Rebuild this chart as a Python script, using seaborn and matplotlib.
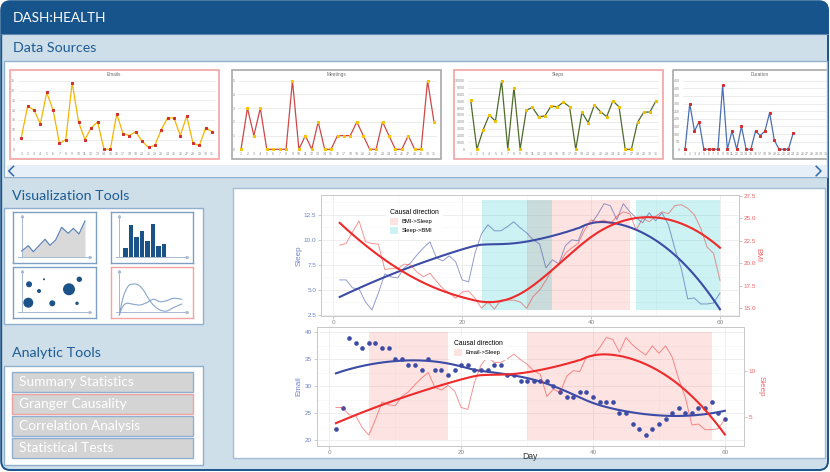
import numpy as np
import pandas as pd
import matplotlib
matplotlib.use("Agg")
import matplotlib.pyplot as plt
import seaborn as sns
from matplotlib.patches import Rectangle, FancyBboxPatch, Patch

W, H, DPI = 830, 472, 100

# ---------------- data ----------------
mini_days = list(range(1, 32))
emails_daily = [6, 22, 20, 13, 29, 20, 3, 5, 34, 14, 5, 11, 14, 0, 0, 18, 8, 7, 9, 4,
                1, 2, 10, 16, 16, 7, 17, 3, 2, 11, 9]
meetings_daily = [0, 3, 1, 3, 0, 0, 0, 0, 5, 0, 1, 0, 2, 0, 0, 1, 1, 1, 2, 1,
                  0, 0, 2, 1, 0, 0, 1, 0, 0, 5, 2]
steps_daily = [7200, 0, 2800, 5000, 4100, 10000, 0, 9000, 0, 5700, 6100, 4750, 4850, 6300,
               6200, 6850, 6200, 0, 5400, 3900, 6450, 5500, 4750, 7050, 6200, 0, 0, 3950,
               5400, 5450, 7100]
duration_days = list(range(1, 25))
duration_daily = [0, 300, 120, 180, 0, 0, 0, 0, 420, 0, 120, 0, 150, 0, 0, 120, 90, 120,
                  240, 60, 0, 0, 0, 105]

days = list(range(1, 61))
sleep = [6.0, 6.0, 5.2, 5.1, 3.8, 3.0, 4.7, 6.6, 6.3, 6.2,
         7.2, 7.7, 8.5, 9.2, 9.8, 8.2, 7.9, 8.4, 7.8, 6.0,
         5.8, 8.7, 10.6, 11.5, 10.9, 10.9, 11.3, 11.8, 11.2, 10.7,
         10.0, 9.6, 7.2, 8.0, 7.6, 9.4, 10.0, 9.9, 11.5, 11.6,
         12.5, 13.6, 13.4, 12.0, 13.6, 12.8, 12.2, 11.7, 12.7, 11.9,
         12.7, 11.5, 9.1, 7.1, 4.1, 4.2, 3.6, 3.6, 3.7, 4.7]
bmi = [22.0, 22.2, 23.5, 24.7, 22.4, 22.2, 22.1, 19.3, 19.4, 19.4,
       19.9, 19.8, 19.0, 18.5, 18.9, 18.0, 17.2, 16.7, 16.1, 16.8,
       16.9, 16.1, 15.0, 15.7, 14.9, 15.9, 15.9, 15.9, 15.7, 15.0,
       16.3, 17.0, 18.1, 19.3, 19.8, 21.1, 21.7, 22.2, 23.7, 24.8,
       24.6, 24.8, 24.4, 25.2, 25.7, 25.5, 23.7, 25.0, 24.6, 25.2,
       25.7, 25.5, 26.4, 26.5, 26.1, 25.4, 23.9, 21.8, 21.1, 18.1]
email = [22, 26, 39, 38, 37, 38, 38, 37, 37, 35, 35, 34, 34, 33, 35, 33, 33, 32, 33, 34,
         34, 33, 33, 33, 34, 34, 32, 32, 31, 31, 31, 31, 31, 30, 29, 28, 28, 29, 29, 28,
         27, 27, 27, 25, 25, 23, 22, 21, 22, 23, 24, 25, 26, 25, 25, 26, 26, 27, 25, 24]

# causal-direction windows (start day, end day)
bmi_to_sleep = [(30, 46)]
sleep_to_bmi = [(23, 34), (47, 60)]
email_to_sleep = [(6, 18), (30, 58)]
top_band = (3.0, 13.95)     # sleep units
bottom_band = (20, 40)      # email units

tools = ["Summary Statistics", "Granger Causality", "Correlation Analysis", "Statistical Tests"]

# icon data (0-100 icon units)
icon_area_x = [10.2, 18.2, 24.3, 38.5, 44.5, 51.4, 58.7, 66.7, 72.8, 79.7, 87.0]
icon_area_y = [24.1, 34.5, 22.7, 47.1, 35.3, 45.7, 70.6, 58.8, 68.6, 57.5, 83.0]
icon_bar_x = [18.0, 24.7, 31.4, 38.1, 44.8, 51.5, 58.2, 64.9]
icon_bar_h = [17.6, 63.3, 40.4, 52.2, 32.5, 64.7, 22.2, 26.1]
icon_bub_x = [19.1, 37.3, 31.2, 67.6, 80.1, 18.2, 47.3, 77.3]
icon_bub_y = [66.7, 76.5, 53.5, 56.9, 76.5, 30.6, 29.4, 29.4]
icon_bub_r = [3.0, 1.0, 2.0, 6.0, 2.7, 5.0, 3.0, 1.7]
icon_c1_x = [10.5, 15.4, 21.5, 27.6, 33.7, 39.8, 45.9, 52.0, 60.1, 68.3, 76.3, 86.6]
icon_c1_y = [6.5, 42.4, 63.3, 67.3, 65.3, 55.5, 39.2, 26.1, 16.3, 14.3, 20.8, 28.0]
icon_c2_x = [10.5, 14.6, 19.5, 27.6, 35.8, 43.9, 52.0, 60.1, 68.3, 76.3, 86.6]
icon_c2_y = [6.5, 22.9, 29.4, 27.5, 26.1, 30.7, 37.3, 32.7, 34.6, 39.2, 37.3]

# ---------------- helpers ----------------
UI_FONT = ["Lato", "DejaVu Sans"]
PLOT_FONT = ["Liberation Sans", "DejaVu Sans"]
plt.rcParams["font.family"] = PLOT_FONT

fig = plt.figure(figsize=(W / DPI, H / DPI), dpi=DPI)
fig.patch.set_facecolor("white")


def px_axes(x0, y0, x1, y1, **kw):
    return fig.add_axes([x0 / W, 1 - y1 / H, (x1 - x0) / W, (y1 - y0) / H], **kw)


def loess(x, y, xs, span=0.75):
    x = np.asarray(x, float)
    y = np.asarray(y, float)
    n = len(x)
    q = int(np.floor(n * span))
    res = []
    for x0 in xs:
        d = np.abs(x - x0)
        h = np.sort(d)[q - 1]
        u = np.clip(d / h, 0, 1)
        w = (1 - u ** 3) ** 3
        A = np.vstack([np.ones(n), x - x0, (x - x0) ** 2]).T
        sw = np.sqrt(w)
        coef, *_ = np.linalg.lstsq(A * sw[:, None], y * sw, rcond=None)
        res.append(coef[0])
    return np.array(res)


def catmull(xs, ys, n=10):
    P = np.c_[xs, ys]
    P = np.vstack([P[0], P, P[-1]])
    out = []
    for i in range(1, len(P) - 2):
        p0, p1, p2, p3 = P[i - 1], P[i], P[i + 1], P[i + 2]
        for t in np.linspace(0, 1, n, endpoint=False):
            out.append(0.5 * (2 * p1 + (-p0 + p2) * t + (2 * p0 - 5 * p1 + 4 * p2 - p3) * t ** 2
                              + (-p0 + 3 * p1 - 3 * p2 + p3) * t ** 3))
    out.append(P[-2])
    out = np.array(out)
    return out[:, 0], out[:, 1]


# ---------------- background / frame ----------------
bg = fig.add_axes([0, 0, 1, 1], zorder=0)
bg.set_xlim(0, W)
bg.set_ylim(H, 0)
bg.axis("off")

DARK = "#17548b"
LIGHT = "#cfdfea"
HEAD = "#1d5b94"
PANEL_EC = "#8fb0cf"

bg.add_patch(FancyBboxPatch((1.2, 1.2), 826.8, 468.8, boxstyle="round,pad=0,rounding_size=9",
                            fc=LIGHT, ec=DARK, lw=1.4))
bg.add_patch(FancyBboxPatch((1.2, 1.2), 826.8, 32, boxstyle="round,pad=0,rounding_size=9",
                            fc=DARK, ec="none"))
bg.add_patch(Rectangle((1.2, 20), 826.8, 13.5, fc=DARK, ec="none"))
bg.plot([1.2, 828], [33.6, 33.6], color="#5f87b0", lw=0.8)
bg.text(13, 17.5, "DASH:HEALTH", color="white", fontsize=9.8, va="center", ha="left", family=UI_FONT)
bg.text(13, 48, "Data Sources", color=HEAD, fontsize=10.3, va="center", ha="left", family=UI_FONT)

# data sources panel
bg.add_patch(Rectangle((3.5, 61), 823.5, 116, fc="white", ec=PANEL_EC, lw=1))
bg.add_patch(Rectangle((7, 165), 819, 11.5, fc="#e6eef8", ec="none"))
bg.plot([13.5, 8.8, 13.5], [166.3, 171, 175.7], color="#2e6aa5", lw=1.1)
bg.plot([816.2, 821, 816.2], [166.3, 171, 175.7], color="#2e6aa5", lw=1.1)

RED_EC = "#f2a3a3"
GRAY_EC = "#a8a8a8"
boxes = [(9.5, 219, RED_EC, "Emails"), (231.5, 441, GRAY_EC, "Meetings"),
         (453.5, 662.5, RED_EC, "Steps")]
for x0, x1, ec, title in boxes:
    bg.add_patch(Rectangle((x0, 69.5), x1 - x0, 89, fc="white", ec=ec, lw=1.2))
    bg.text((x0 + x1) / 2, 74.8, title, fontsize=3.4, color="#6a6a6a", ha="center", va="center")
bg.plot([826, 672.5, 672.5, 826], [69.5, 69.5, 158.5, 158.5], color=GRAY_EC, lw=1.2)
bg.text(760, 74.8, "Duration", fontsize=3.4, color="#6a6a6a", ha="center", va="center")

# left column
bg.text(12, 196, "Visualization Tools", color=HEAD, fontsize=10.3, va="center", ha="left", family=UI_FONT)
bg.add_patch(Rectangle((3.5, 207.5), 199, 116, fc="white", ec=PANEL_EC, lw=1))
bg.text(12, 353, "Analytic Tools", color=HEAD, fontsize=10.3, va="center", ha="left", family=UI_FONT)
bg.add_patch(Rectangle((3.5, 366), 199.5, 99, fc="white", ec=PANEL_EC, lw=1))

btn_y = [372.3, 394.3, 416.3, 438.3]
for i, (label, y0) in enumerate(zip(tools, btn_y)):
    ec = "#f0a2a2" if label == "Granger Causality" else "#8fb0d0"
    bg.add_patch(Rectangle((11.7, y0), 181, 19.5, fc="#d4d4d4", ec=ec, lw=1))
    bg.text(19, y0 + 10, label, color="white", fontsize=9.9, va="center", ha="left", family=UI_FONT)

# main visualization box
bg.add_patch(Rectangle((232.5, 187.5), 592.5, 270.5, fc="white", ec="#a3bdd6", lw=1))

# ---------------- mini charts ----------------
MINI_TXT = "#8c8c8c"


def mini(ax, xs, ys, ymax, ystep, line_c, mark_c, xmax=31.5):
    sns.lineplot(x=xs, y=ys, ax=ax, color=line_c, lw=0.9, marker="s", markersize=2.0,
                 markerfacecolor=mark_c, markeredgecolor=mark_c, clip_on=False, zorder=3)
    ax.set_xlim(0.5, xmax)
    ax.set_ylim(0, ymax)
    ax.set_yticks(np.arange(0, ymax + ystep / 2, ystep))
    ax.set_xticks(range(1, 32))
    ax.set_xticklabels([str(d) for d in range(1, 32)])
    ax.grid(axis="y", color="#e4e4e4", lw=0.5)
    ax.set_axisbelow(True)
    for s in ax.spines.values():
        s.set_visible(False)
    ax.tick_params(length=0, labelsize=2.6, labelcolor=MINI_TXT, pad=2)
    ax.set_xlabel("")
    ax.set_ylabel("")
    ax.patch.set_alpha(0)


a = px_axes(18.1, 80.7, 215.3, 149.3)
mini(a, mini_days, emails_daily, 35, 5, "#f5b400", "#d22f2f")
a = px_axes(237.8, 80.7, 437.2, 149.3)
mini(a, mini_days, meetings_daily, 5, 1, "#cf4747", "#f5c400")
a = px_axes(467.6, 80.7, 659.2, 149.3)
mini(a, mini_days, steps_daily, 10000, 1000, "#4f6b2c", "#f0c000")
a = px_axes(682.7, 80.7, 826, 149.3)
mini(a, duration_days, duration_daily, 450, 50, "#4a6fb2", "#d23030", xmax=0.5 + (826 - 682.7) / 6.0)

# ---------------- tool icons ----------------
ICON_AX = "#a7b9d3"
ICON_BLUE = "#1b5288"


def icon_axes(x0, y0, x1, y1, ec):
    ax = px_axes(x0, y0, x1, y1)
    ax.set_xlim(0, 100)
    ax.set_ylim(0, 100)
    ax.set_xticks([])
    ax.set_yticks([])
    for s in ax.spines.values():
        s.set_color(ec)
        s.set_linewidth(1.0)
    ax.plot([10.2, 10.2], [11.8, 92], color=ICON_AX, lw=0.7)
    ax.plot([6, 92], [11.8, 11.8], color=ICON_AX, lw=0.7)
    ax.plot([10.2], [93], marker="^", ms=1.6, color=ICON_AX)
    ax.plot([93], [11.8], marker=">", ms=1.6, color=ICON_AX)
    return ax


ia = icon_axes(13.3, 212.3, 95.7, 263.3, "#7f9fc2")
ia.fill_between(icon_area_x, 11.8, icon_area_y, color="#d9d9d9", lw=0)
ia.plot(icon_area_x, icon_area_y, color="#5f86b8", lw=0.9)

ib = icon_axes(110.7, 212.3, 192.7, 263.3, "#7f9fc2")
ib.bar(icon_bar_x, icon_bar_h, bottom=11.8, width=5.4, color=ICON_BLUE)

ic = icon_axes(13.3, 267.3, 95.7, 318.3, "#7f9fc2")
ic.scatter(icon_bub_x, icon_bub_y, s=[(2 * r * 0.72) ** 2 for r in icon_bub_r], color=ICON_BLUE, lw=0)

idd = icon_axes(110.7, 267.3, 192.7, 318.3, "#f2a3a3")
cx, cy = catmull(icon_c1_x, icon_c1_y)
idd.plot(cx, cy, color="#88a5cc", lw=0.8)
cx, cy = catmull(icon_c2_x, icon_c2_y)
idd.plot(cx, cy, color="#88a5cc", lw=0.8)

# ---------------- main charts ----------------
PINK = "#F8766D"
CYAN = "#00BFC4"
BLUE = "#3b4ba6"
RED = "#ee2a2a"
BLUE_TXT = "#7283c9"
RED_TXT = "#f26565"
GRID = "#ebebeb"
XLIM = (-1.95, 62.95)
xs_fine = np.linspace(1, 60, 120)
TICK_FS = 4.6
LEG_KW = dict(loc="upper left", bbox_transform=fig.transFigure,
              fontsize=4.2, title_fontsize=4.9, frameon=True, fancybox=False, framealpha=1,
              facecolor="white", edgecolor="none", handlelength=1.35, handleheight=1.45,
              handletextpad=0.6, borderpad=0.7, labelspacing=0.35)


def style_panel(ax, major_x, minor_x, major_y, minor_y):
    ax.set_xlim(*XLIM)
    ax.set_xticks(major_x)
    ax.set_xticks(minor_x, minor=True)
    ax.set_yticks(major_y)
    ax.set_yticks(minor_y, minor=True)
    ax.grid(which="major", color=GRID, lw=0.6)
    ax.grid(which="minor", color="#f3f3f3", lw=0.4)
    ax.set_axisbelow(True)
    for s in ax.spines.values():
        s.set_color("#c8c8c8")
        s.set_linewidth(0.7)
    ax.tick_params(which="minor", length=0)
    ax.tick_params(which="major", length=2, width=0.5, color="#b5b5b5", labelsize=TICK_FS, pad=1.2)
    ax.tick_params(axis="x", labelcolor="#8a8a8a")
    ax.tick_params(axis="y", labelcolor=BLUE_TXT)


# ----- top: Sleep vs BMI -----
ax1 = px_axes(320.7, 194.7, 739, 316)
ax1.set_ylim(2.4, 14.5)
style_panel(ax1, [0, 20, 40, 60], [10, 30, 50], [2.5, 5, 7.5, 10, 12.5], [3.75, 6.25, 8.75, 11.25, 13.75])
ax1.set_yticklabels(["2.5", "5.0", "7.5", "10.0", "12.5"])
for s0, s1 in bmi_to_sleep:
    ax1.fill_between([s0, s1], top_band[0], top_band[1], color=PINK, alpha=0.2, lw=0)
for s0, s1 in sleep_to_bmi:
    ax1.fill_between([s0, s1], top_band[0], top_band[1], color=CYAN, alpha=0.2, lw=0)
sns.lineplot(x=days, y=sleep, ax=ax1, color=BLUE, alpha=0.55, lw=0.7)
sns.lineplot(x=xs_fine, y=loess(days, sleep, xs_fine), ax=ax1, color=BLUE, lw=1.5)
ax1.set_xlabel("")
ax1.set_ylabel("Sleep", color=BLUE_TXT, fontsize=5.8, labelpad=0.8)

ax2 = ax1.twinx()
ax2.set_ylim(14.14, 27.61)
sns.lineplot(x=days, y=bmi, ax=ax2, color=RED, alpha=0.5, lw=0.7)
sns.lineplot(x=xs_fine, y=loess(days, bmi, xs_fine), ax=ax2, color=RED, lw=1.5)
ax2.set_yticks([15, 17.5, 20, 22.5, 25, 27.5])
ax2.set_yticklabels(["15.0", "17.5", "20.0", "22.5", "25.0", "27.5"])
ax2.tick_params(length=2, width=0.5, color="#b5b5b5", labelsize=TICK_FS, pad=1.2, labelcolor=RED_TXT)
for s in ax2.spines.values():
    s.set_visible(False)
ax2.set_ylabel("BMI", color=RED_TXT, fontsize=5.8, rotation=-90, labelpad=4)
ax2.set_xlim(*XLIM)

leg = ax2.legend(handles=[Patch(fc=PINK, alpha=0.2, ec="none"), Patch(fc=CYAN, alpha=0.2, ec="none")],
                 labels=["BMI->Sleep", "Sleep->BMI"], title="Causal direction",
                 bbox_to_anchor=(383 / W, 1 - 201.7 / H), **LEG_KW)
leg._legend_box.align = "left"

# ----- bottom: Email vs Sleep -----
ax3 = px_axes(316.5, 326.7, 744.3, 445.7)
ax3.set_ylim(19, 41)
style_panel(ax3, [0, 20, 40, 60], [10, 30, 50], [20, 25, 30, 35, 40], [22.5, 27.5, 32.5, 37.5])
for s0, s1 in email_to_sleep:
    ax3.fill_between([s0, s1], bottom_band[0], bottom_band[1], color=PINK, alpha=0.2, lw=0)
sns.scatterplot(x=days, y=email, ax=ax3, color=BLUE, s=11, linewidth=0, zorder=3)
sns.lineplot(x=xs_fine, y=loess(days, email, xs_fine), ax=ax3, color=BLUE, lw=1.5)
ax3.set_xlabel("Day", fontsize=6.2, color="#333333", labelpad=-2.5)
ax3.set_ylabel("Email", color=BLUE_TXT, fontsize=5.8, labelpad=1.5)

ax4 = ax3.twinx()
ax4.set_ylim(1.85, 14.78)
sns.lineplot(x=days, y=sleep, ax=ax4, color=RED, alpha=0.5, lw=0.7)
sns.lineplot(x=xs_fine, y=loess(days, sleep, xs_fine), ax=ax4, color=RED, lw=1.5)
ax4.set_yticks([5, 10])
ax4.tick_params(length=2, width=0.5, color="#b5b5b5", labelsize=TICK_FS, pad=1.2, labelcolor=RED_TXT)
for s in ax4.spines.values():
    s.set_visible(False)
ax4.set_ylabel("Sleep", color=RED_TXT, fontsize=5.8, rotation=-90, labelpad=6)
ax4.set_xlim(*XLIM)

leg2 = ax4.legend(handles=[Patch(fc=PINK, alpha=0.2, ec="none")], labels=["Email->Sleep"],
                  title="Causal direction", bbox_to_anchor=(447.4 / W, 1 - 332.7 / H), **LEG_KW)
leg2._legend_box.align = "left"

fig.savefig("out.png", dpi=DPI)
